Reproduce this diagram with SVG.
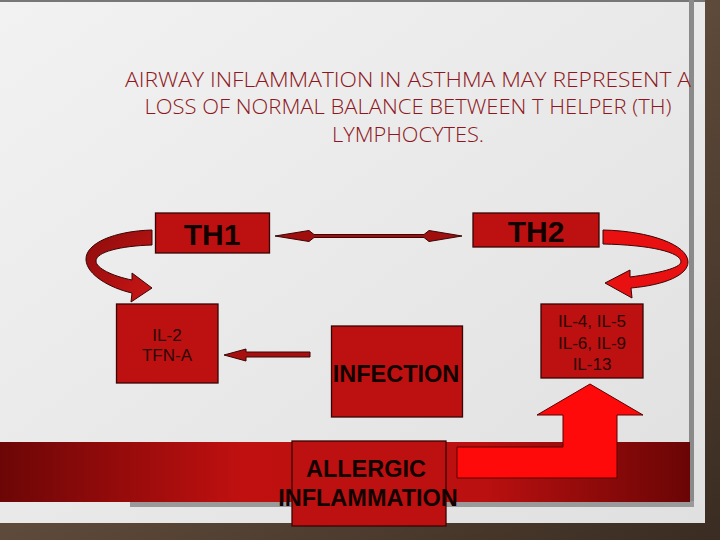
<svg xmlns="http://www.w3.org/2000/svg" width="720" height="540" viewBox="0 0 720 540">
<defs>
<linearGradient id="bg" x1="0" y1="0" x2="1" y2="1">
<stop offset="0" stop-color="#4a3a2e"/><stop offset="0.5" stop-color="#5e4a3a"/><stop offset="1" stop-color="#3a2c22"/>
</linearGradient>
<linearGradient id="card" x1="0" y1="0" x2="1" y2="1">
<stop offset="0" stop-color="#f2f2f2"/><stop offset="1" stop-color="#e0e0e0"/>
</linearGradient>
<linearGradient id="band" x1="0" y1="0" x2="1" y2="0">
<stop offset="0" stop-color="#6c0606"/><stop offset="0.35" stop-color="#c01010"/><stop offset="0.7" stop-color="#bb1010"/><stop offset="1" stop-color="#6a0505"/>
</linearGradient>
<linearGradient id="curlL" x1="0" y1="0" x2="1" y2="1">
<stop offset="0" stop-color="#8c0c0c"/><stop offset="1" stop-color="#cc1515"/>
</linearGradient>
<style>
.box{fill:#bd1111;stroke:#3a0505;stroke-width:1.3}
.big{font-family:"Liberation Sans",Arial,sans-serif;font-weight:bold;fill:#120000;text-anchor:middle}
.small{font-family:"Liberation Sans",Arial,sans-serif;font-size:17px;fill:#2b0505;text-anchor:middle}
.title{font-family:"Open Sans","Noto Sans","Liberation Sans",sans-serif;font-size:21px;fill:#8e1620;text-anchor:middle;font-weight:300}
.conn{stroke:#3a0505;stroke-width:1}
</style>
</defs>
<rect x="0" y="0" width="720" height="540" fill="url(#bg)"/>
<rect x="0" y="2" width="705" height="521" fill="url(#card)"/>
<rect x="0" y="0" width="705" height="2" fill="#777"/>
<rect x="689" y="0" width="5" height="507" fill="#8a8a8a"/>
<rect x="130" y="501" width="564" height="6" fill="#9a9a9a"/>
<rect x="0" y="442" width="690" height="60" fill="url(#band)"/>

<g id="title">
<text class="title" x="408" y="87" textLength="566" lengthAdjust="spacingAndGlyphs">AIRWAY INFLAMMATION IN ASTHMA MAY REPRESENT A</text>
<text class="title" x="408" y="114" textLength="527" lengthAdjust="spacingAndGlyphs">LOSS OF NORMAL BALANCE BETWEEN T HELPER (TH)</text>
<text class="title" x="408" y="142" textLength="152" lengthAdjust="spacingAndGlyphs">LYMPHOCYTES.</text>
</g>

<g id="connectors">
<path class="conn" fill="#a00e0e" d="M275,236 L309,230.5 L314,234.5 L424,234.5 L429,230.5 L462,236 L429,241.5 L424,237.5 L314,237.5 L309,241.5 Z"/>
<path class="conn" fill="#a81010" d="M310,352 L246,352 L246,349 L224,355 L246,361 L246,357 L310,357 Z"/>
<path class="conn" fill="url(#curlL)" d="M152,230 C115,231 85,243 86,260 C87,275 110,288 132,293 L131,302 L152,288 L132,273 L132,280 C112,276 96,268 96,261 C96,252 120,246 152,245 Z"/>
<path class="conn" fill="#e81010" d="M603,230 C650,231 688,245 688,262 C688,275 665,285 631,288 L632,298 L605,283 L630,270 L630,277 C660,273 680,268 681,262 C681,252 650,245 603,244 Z"/>
<path fill="#ff0a0a" stroke="#5a0000" stroke-width="1" d="M457,447 L563,447 L563,415 L537,415 L590,384 L643,415 L617,415 L617,478 L457,478 Z"/>
</g>

<g id="th1">
<rect class="box" x="155.5" y="213" width="114" height="40"/>
<text class="big" x="212" y="245" font-size="30">TH1</text>
</g>
<g id="th2">
<rect class="box" x="473" y="213" width="126" height="34"/>
<text class="big" x="536" y="242" font-size="30">TH2</text>
</g>
<g id="il2">
<rect class="box" x="116.5" y="304" width="101.5" height="79"/>
<text class="small" x="167" y="341">IL-2</text>
<text class="small" x="167" y="361">TFN-A</text>
</g>
<g id="il4">
<rect class="box" x="541" y="304" width="102" height="74"/>
<text class="small" x="592" y="327">IL-4, IL-5</text>
<text class="small" x="592" y="349">IL-6, IL-9</text>
<text class="small" x="592" y="370">IL-13</text>
</g>
<g id="infection">
<rect class="box" x="331.5" y="326" width="131" height="91"/>
<text class="big" x="396" y="382" font-size="23.5">INFECTION</text>
</g>
<g id="allergic">
<rect class="box" x="292" y="441" width="154" height="85"/>
<text class="big" x="366" y="477" font-size="23.5">ALLERGIC</text>
<text class="big" x="368" y="506" font-size="23.5">INFLAMMATION</text>
</g>
</svg>
